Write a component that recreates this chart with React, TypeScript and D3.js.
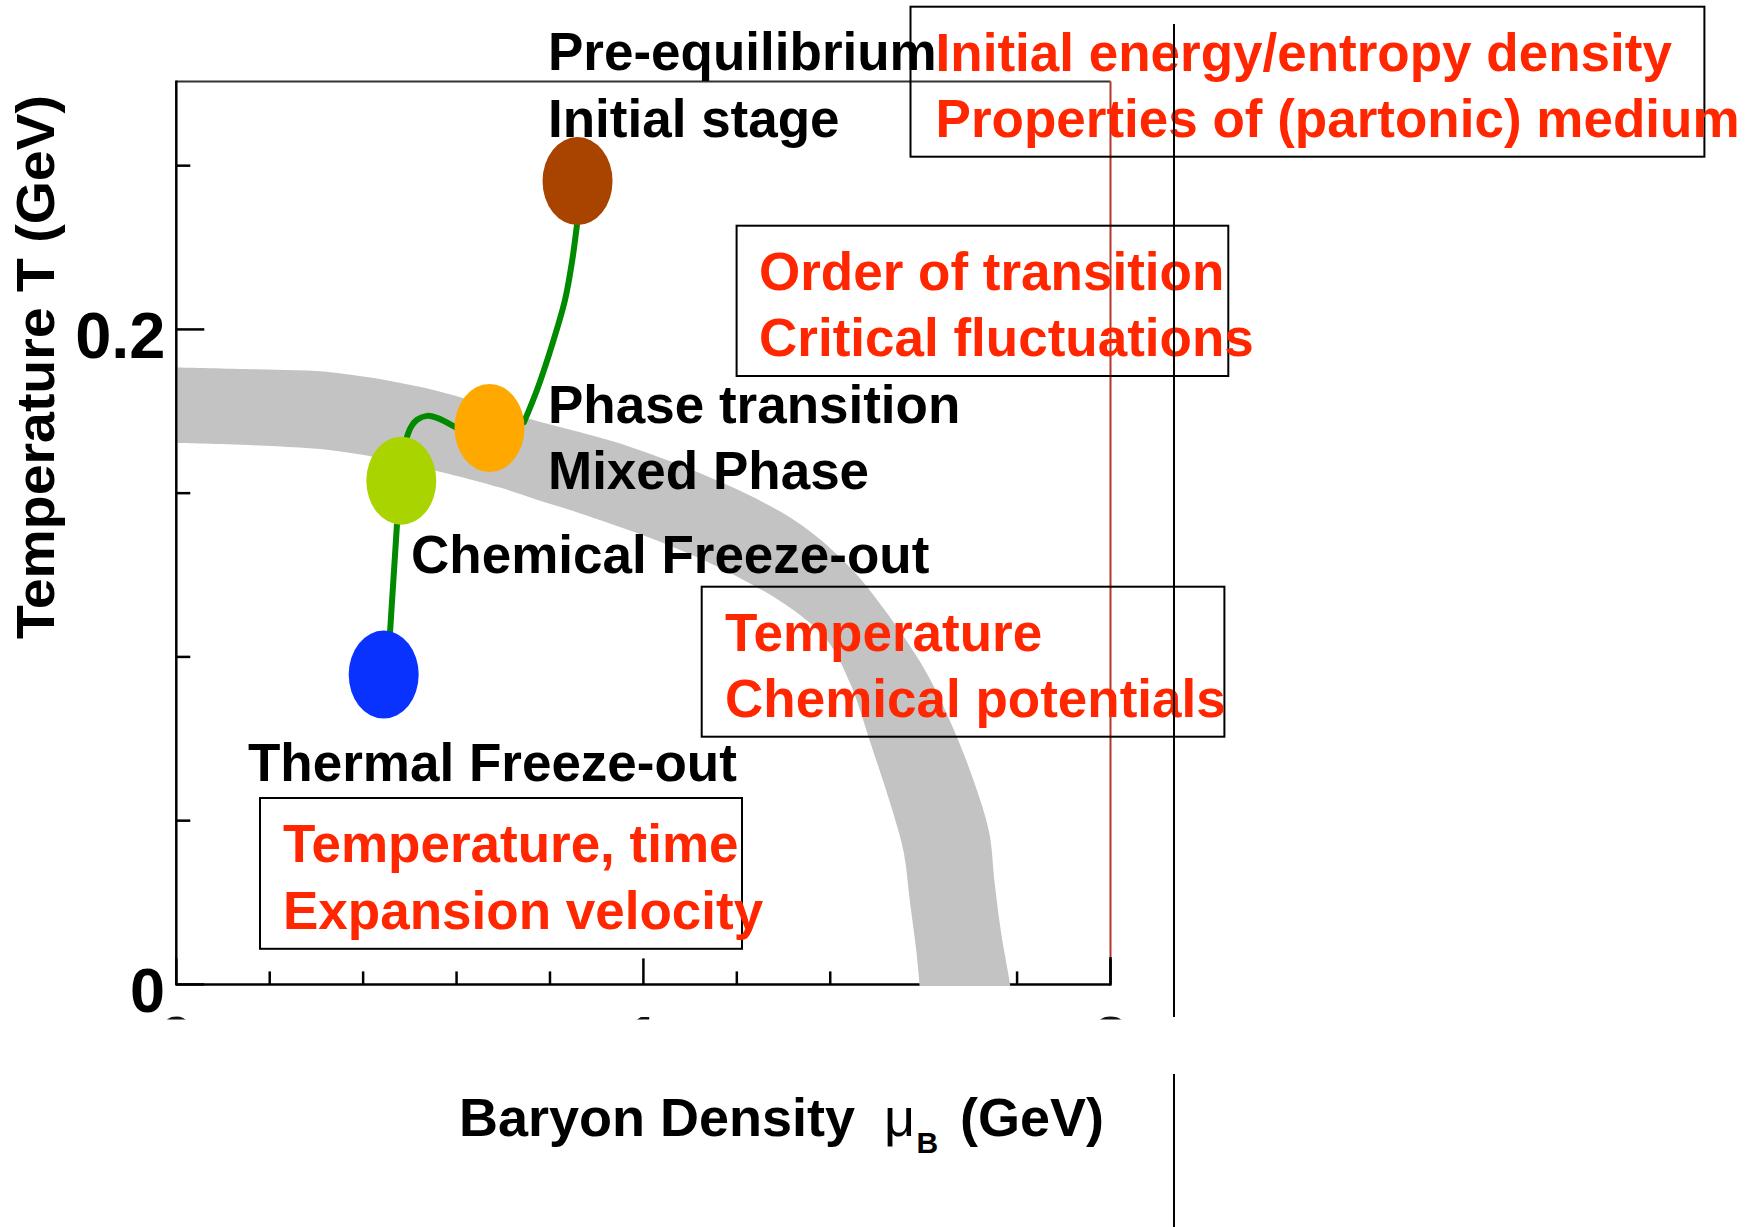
import React from "react";
import * as d3 from "d3";

// ---- data ----
const xDomain = [0, 2];
const yDomain = [0, 0.2757];
const xTicks = [0, 0.2, 0.4, 0.6, 0.8, 1.0, 1.2, 1.4, 1.6, 1.8, 2.0];
const xMajor = [0, 1, 2];
const xTickLabels = ["0", "1", "2"];
const yTicks = [0, 0.05, 0.1, 0.15, 0.2, 0.25];
const yMajor = [0, 0.2];
const yTickLabels = ["0", "0.2"];

// phase boundary band (muB, T)
const bandUpper: [number, number][] = [
  [0.0, 0.1884], [0.172, 0.1878], [0.344, 0.1867], [0.557, 0.1813], [0.746, 0.1731],
  [0.977, 0.1639], [1.192, 0.1517], [1.336, 0.1405], [1.443, 0.1272], [1.513, 0.115],
  [1.599, 0.0969], [1.656, 0.0806], [1.706, 0.0626], [1.74, 0.0466], [1.752, 0.031],
  [1.766, 0.0156], [1.785, 0.0], [1.787, -0.003],
];
const bandLower: [number, number][] = [
  [0.0, 0.1653], [0.344, 0.1629], [0.557, 0.1568], [0.693, 0.1517], [0.772, 0.148],
  [0.872, 0.1435], [1.049, 0.1344], [1.192, 0.1252], [1.314, 0.115], [1.393, 0.1051],
  [1.443, 0.0918], [1.486, 0.0738], [1.534, 0.0527], [1.558, 0.0398], [1.57, 0.0259],
  [1.584, 0.0105], [1.591, 0.0], [1.592, -0.003],
];

// stages of the collision
const stageNames = ["Initial stage", "Phase transition", "Chemical Freeze-out", "Thermal Freeze-out"];
const stageMu = [0.859, 0.6705, 0.4817, 0.444];
const stageT = [0.2453, 0.1699, 0.1538, 0.0946];
const stageColors = ["#a94400", "#ffa800", "#aad400", "#0a32ff"];

// trajectory segments (muB, T)
const trajSeg1: [number, number][] = [
  [0.8578, 0.2319], [0.8471, 0.2206], [0.8322, 0.209], [0.8065, 0.1962], [0.7722, 0.1815], [0.7444, 0.1717],
];
const trajSeg2: [number, number][] = [
  [0.5967, 0.1702], [0.5581, 0.173], [0.5367, 0.1736], [0.5153, 0.1724], [0.5025, 0.1702], [0.4939, 0.1672],
];
const trajSeg3: [number, number][] = [
  [0.4725, 0.1406], [0.4575, 0.1073],
];

const blackLabels = [
  { text: "Pre-equilibrium", x: 548, y: 69.5 },
  { text: "Initial stage", x: 548, y: 136.5 },
  { text: "Phase transition", x: 548, y: 423 },
  { text: "Mixed Phase", x: 548, y: 488.5 },
  { text: "Chemical Freeze-out", x: 411, y: 573 },
  { text: "Thermal Freeze-out", x: 248, y: 781 },
];

const redBoxes = [
  { x0: 910.5, y0: 6.7, x1: 1704.4, y1: 156.7, tx: 935.6, lines: ["Initial energy/entropy density", "Properties of (partonic) medium"] },
  { x0: 736.6, y0: 225.7, x1: 1228.3, y1: 376, tx: 759, lines: ["Order of transition", "Critical fluctuations"] },
  { x0: 701.7, y0: 586.7, x1: 1224.4, y1: 736.7, tx: 725, lines: ["Temperature", "Chemical potentials"] },
  { x0: 260, y0: 798, x1: 742, y1: 948.8, tx: 283, lines: ["Temperature, time", "Expansion velocity"] },
];

const FONT = "'Liberation Sans', Arial, Helvetica, sans-serif";
const RED = "#ff2600";

export default function App() {
  const W = 1750, H = 1227;
  const left = 176.3, right = 1110.5, top = 81.5, bottom = 984.4;
  const x = d3.scaleLinear().domain(xDomain).range([left, right]);
  const y = d3.scaleLinear().domain(yDomain).range([bottom, top]);

  const edge = d3.line<[number, number]>().x((d) => x(d[0])).y((d) => y(d[1])).curve(d3.curveCatmullRom.alpha(0.5));
  const upperPath = edge(bandUpper) || "";
  const lowerRev = [...bandLower].reverse();
  const lowerPath = (edge(lowerRev) || "").replace(/^M/, "L");
  const bandPath = upperPath + lowerPath + "Z";

  const traj = d3.line<[number, number]>().x((d) => x(d[0])).y((d) => y(d[1])).curve(d3.curveCatmullRom.alpha(0.5));

  return (
    <svg width={W} height={H} style={{ position: "absolute", left: 0, top: 0, background: "#fff" }} xmlns="http://www.w3.org/2000/svg">
      <defs>
        <clipPath id="plotClip">
          <rect x={left + 1.3} y={top} width={right - left - 1.3} height={bottom - top + 1.6} />
        </clipPath>
        <clipPath id="labelClip">
          <rect x={0} y={1000} width={W} height={19.5} />
        </clipPath>
      </defs>
      <rect x={0} y={0} width={W} height={H} fill="#fff" />

      {/* frame lines */}
      <line x1={left} x2={right} y1={top} y2={top} stroke="#333" strokeWidth={2} />
      <line x1={left} x2={right} y1={bottom} y2={bottom} stroke="#000" strokeWidth={2.5} />
      <line x1={right} x2={right} y1={top} y2={957} stroke="#b5352a" strokeWidth={2} />
      <line x1={right} x2={right} y1={957} y2={bottom + 1.2} stroke="#000" strokeWidth={2.5} />

      {/* x ticks */}
      {xTicks.map((t, i) => {
        const major = xMajor.some((m) => Math.abs(m - t) < 1e-9);
        return <line key={"xt" + i} x1={x(t)} x2={x(t)} y1={bottom} y2={bottom - (major ? 26 : 13)} stroke="#000" strokeWidth={2.5} />;
      })}
      {/* y ticks */}
      {yTicks.map((t, i) => {
        const major = yMajor.some((m) => Math.abs(m - t) < 1e-9);
        return <line key={"yt" + i} x1={left} x2={left + (major ? 28 : 14)} y1={y(t)} y2={y(t)} stroke="#000" strokeWidth={2.5} />;
      })}

      {/* phase band */}
      <path d={bandPath} fill="#c3c3c3" clipPath="url(#plotClip)" />

      {/* left axis line on top */}
      <line x1={left} x2={left} y1={top - 1} y2={bottom + 1.2} stroke="#000" strokeWidth={2.5} />

      {/* y tick labels */}
      <text x={165.5} y={357.5} fontFamily={FONT} fontWeight="bold" fontSize={65} textAnchor="end">{yTickLabels[1]}</text>
      <text x={165} y={1012} fontFamily={FONT} fontWeight="bold" fontSize={63} textAnchor="end">{yTickLabels[0]}</text>

      {/* clipped x tick labels (cut off in the original) */}
      <g clipPath="url(#labelClip)">
        {xMajor.map((t, i) => (
          <text key={"xl" + i} x={x(t)} y={1062} fontFamily={FONT} fontWeight="bold" fontSize={64} textAnchor="middle" fill="#111">{xTickLabels[i]}</text>
        ))}
      </g>

      {/* trajectory */}
      {[trajSeg1, trajSeg2, trajSeg3].map((seg, i) => (
        <path key={"tr" + i} d={traj(seg) || ""} fill="none" stroke="#008a00" strokeWidth={6} strokeLinecap="round" />
      ))}

      {/* stage ellipses */}
      {stageMu.map((m, i) => (
        <ellipse key={"st" + i} cx={x(m)} cy={y(stageT[i])} rx={35} ry={44} fill={stageColors[i]}>
          <title>{stageNames[i]}</title>
        </ellipse>
      ))}

      {/* black labels */}
      {blackLabels.map((l, i) => (
        <text key={"bl" + i} x={l.x} y={l.y} fontFamily={FONT} fontWeight="bold" fontSize={53} fill="#000">{l.text}</text>
      ))}

      {/* red boxes */}
      {redBoxes.map((b, i) => (
        <g key={"rb" + i}>
          <rect x={b.x0} y={b.y0} width={b.x1 - b.x0} height={b.y1 - b.y0} fill="none" stroke="#000" strokeWidth={2} />
          {b.lines.map((ln, j) => (
            <text key={j} x={b.tx} y={b.y0 + 64 + j * 66.5} fontFamily={FONT} fontWeight="bold" fontSize={53} fill={RED}>{ln}</text>
          ))}
        </g>
      ))}

      {/* axis titles */}
      <text transform="translate(53.5,367) rotate(-90)" fontFamily={FONT} fontWeight="bold" fontSize={53} textAnchor="middle" textLength={544} lengthAdjust="spacingAndGlyphs">Temperature T (GeV)</text>
      <text x={459} y={1136} fontFamily={FONT} fontWeight="bold" fontSize={54}>Baryon Density</text>
      <text x={884} y={1136} fontFamily={FONT} fontWeight="normal" fontSize={54}>μ</text>
      <text x={916.5} y={1153} fontFamily={FONT} fontWeight="bold" fontSize={30}>B</text>
      <text x={960} y={1136} fontFamily={FONT} fontWeight="bold" fontSize={54}>(GeV)</text>

      {/* stray vertical line */}
      <line x1={1174} x2={1174} y1={24} y2={1017} stroke="#000" strokeWidth={2} />
      <line x1={1174} x2={1174} y1={1074} y2={H} stroke="#000" strokeWidth={2} />
    </svg>
  );
}
